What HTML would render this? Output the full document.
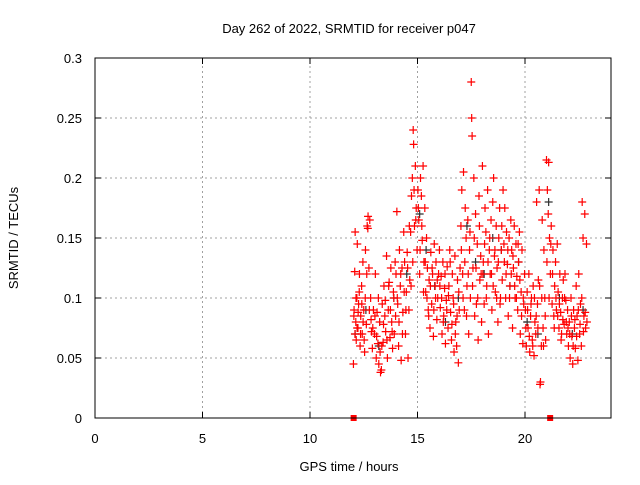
<!DOCTYPE html>
<html><head><meta charset="utf-8"><style>
body{margin:0;background:#fff}
svg text{font-family:"Liberation Sans",sans-serif;font-size:13px;fill:#000}
</style></head><body>
<svg id="chart" width="640" height="480" viewBox="0 0 640 480" xmlns="http://www.w3.org/2000/svg">
<rect width="640" height="480" fill="#fff"/>
<text x="349" y="33" text-anchor="middle">Day 262 of 2022, SRMTID for receiver p047</text>
<text transform="translate(18,238) rotate(-90)" text-anchor="middle">SRMTID / TECUs</text>
<text x="349" y="471" text-anchor="middle">GPS time / hours</text>
<g id="grid"></g>
<g id="ticks"></g>
<g id="marks"></g>
<rect x="95" y="58" width="516" height="360" fill="none" stroke="#000" stroke-width="1"/>
</svg>
<script>
const xTicks=[0,5,10,15,20];
const yTicks=[0,0.05,0.1,0.15,0.2,0.25,0.3];
const yTickLabels=["0","0.05","0.1","0.15","0.2","0.25","0.3"];
const times=[12.02,12.05,12.08,12.1,12.13,12.15,12.18,12.2,12.23,12.26,12.3,12.33,12.36,12.4,12.43,12.46,12.5,12.54,12.58,12.62,12.66,12.7,12.74,12.78,12.82,12.86,12.9,12.95,
13.0,13.04,13.08,13.12,13.16,13.2,13.24,13.28,13.32,13.36,13.4,13.44,13.48,13.52,13.56,13.6,13.64,13.68,13.72,13.76,13.8,13.84,13.88,13.92,13.96,
14.0,14.04,14.08,14.12,14.16,14.2,14.24,14.28,14.32,14.36,14.4,14.44,14.48,14.52,14.56,14.6,14.64,14.68,14.72,14.76,14.8,14.82,14.86,14.9,14.94,14.98,
15.02,15.06,15.1,15.14,15.18,15.22,15.26,15.3,15.34,15.38,15.42,15.46,15.5,15.54,15.58,15.62,15.66,15.7,15.74,15.78,15.82,15.86,15.9,15.94,15.98,
16.02,16.06,16.1,16.14,16.18,16.22,16.26,16.3,16.34,16.38,16.42,16.46,16.5,16.54,16.58,16.62,16.66,16.7,16.74,16.78,16.82,16.86,16.9,16.94,16.98,
17.02,17.06,17.1,17.14,17.18,17.22,17.26,17.3,17.34,17.38,17.42,17.46,17.5,17.52,17.54,17.58,17.62,17.66,17.7,17.74,17.78,17.82,17.86,17.9,17.94,17.98,
18.02,18.06,18.1,18.14,18.18,18.22,18.26,18.3,18.34,18.38,18.42,18.46,18.5,18.54,18.58,18.62,18.66,18.7,18.74,18.78,18.82,18.86,18.9,18.94,18.98,
19.02,19.06,19.1,19.14,19.18,19.22,19.26,19.3,19.34,19.38,19.42,19.46,19.5,19.54,19.58,19.62,19.66,19.7,19.74,19.78,19.82,19.86,19.9,19.94,19.98,
20.02,20.06,20.1,20.14,20.18,20.22,20.26,20.3,20.34,20.38,20.42,20.46,20.5,20.54,20.58,20.62,20.66,20.7,20.72,20.76,20.8,20.84,20.88,20.92,20.96,
21.0,21.04,21.08,21.1,21.14,21.18,21.22,21.26,21.3,21.34,21.38,21.42,21.46,21.5,21.54,21.58,21.62,21.66,21.7,21.74,21.78,21.82,21.86,21.9,21.94,21.98,
22.02,22.06,22.1,22.14,22.18,22.22,22.26,22.3,22.34,22.38,22.42,22.46,22.5,22.54,22.58,22.62,22.66,22.7,22.74,22.78,22.82,22.86];
const srmtid=[.045,.09,.122,.155,.08,.065,.1,.145,.075,.095,.12,.06,.085,.11,.07,.13,.09,.055,.14,.078,.16,.168,.125,.165,.1,.072,.058,.09,
.07,.12,.05,.088,.062,.045,.08,.038,.04,.095,.063,.11,.085,.072,.135,.05,.09,.113,.067,.125,.08,.058,.105,.07,.13,
.12,.172,.095,.06,.14,.11,.048,.125,.088,.155,.13,.07,.105,.138,.05,.09,.115,.155,.185,.2,.24,.228,.16,.21,.175,.14,
.19,.165,.12,.2,.185,.148,.21,.13,.175,.105,.15,.125,.09,.115,.075,.138,.095,.12,.068,.145,.11,.13,.082,.1,.12,
.14,.092,.118,.07,.13,.085,.108,.062,.098,.126,.075,.11,.14,.088,.065,.12,.1,.055,.135,.08,.06,.115,.046,.09,.125,
.16,.19,.12,.205,.09,.175,.15,.11,.165,.07,.14,.1,.28,.25,.235,.125,.2,.085,.17,.095,.145,.065,.185,.115,.135,.08,
.21,.13,.095,.175,.155,.11,.19,.07,.14,.12,.165,.09,.18,.2,.135,.105,.16,.125,.08,.15,.175,.1,.14,.115,.19,
.145,.175,.1,.155,.128,.085,.15,.11,.165,.14,.075,.125,.16,.1,.145,.118,.09,.13,.155,.07,.105,.14,.062,.095,.12,
.09,.06,.105,.075,.12,.055,.085,.1,.065,.11,.052,.08,.07,.18,.095,.115,.19,.028,.03,.06,.165,.075,.14,.1,.065,
.215,.19,.17,.213,.15,.12,.16,.095,.14,.085,.11,.13,.09,.145,.105,.075,.12,.088,.07,.1,.115,.078,.12,.098,.07,.09,
.06,.08,.05,.1,.068,.045,.09,.075,.058,.11,.085,.048,.12,.07,.095,.06,.18,.15,.085,.17,.075,.145];
const extraTimes=[12.04,12.09,12.14,12.19,12.24,12.29,12.35,12.41,12.47,12.52,12.57,12.64,12.69,12.76,12.84,12.92,
13.02,13.1,13.18,13.26,13.34,13.42,13.5,13.58,13.66,13.74,13.82,13.9,13.98,
14.06,14.14,14.22,14.3,14.38,14.46,14.54,14.62,14.7,14.78,14.84,14.92,
15.04,15.12,15.2,15.28,15.36,15.44,15.52,15.6,15.68,15.76,15.84,15.92,
16.04,16.12,16.2,16.28,16.36,16.44,16.52,16.6,16.68,16.76,16.84,16.92,
17.04,17.12,17.2,17.28,17.36,17.44,17.56,17.64,17.72,17.8,17.88,17.96,
18.04,18.12,18.2,18.28,18.36,18.44,18.52,18.6,18.68,18.76,18.84,18.92,
19.04,19.12,19.2,19.28,19.36,19.44,19.52,19.6,19.68,19.76,19.84,19.92,
20.04,20.12,20.2,20.28,20.36,20.44,20.52,20.6,20.68,20.78,20.86,20.94,
21.02,21.12,21.2,21.28,21.36,21.44,21.52,21.6,21.68,21.76,21.84,21.92,
22.0,22.08,22.16,22.24,22.32,22.4,22.48,22.56,22.64,22.72,22.8,22.88];
const extraSrmtid=[.085,.07,.1,.075,.088,.105,.07,.095,.08,.065,.1,.12,.158,.09,.082,.075,
.085,.068,.1,.055,.06,.078,.098,.065,.11,.09,.072,.1,.085,
.1,.08,.12,.07,.105,.09,.125,.16,.11,.13,.19,.165,
.175,.14,.16,.105,.13,.1,.085,.11,.125,.09,.1,.115,
.11,.1,.08,.12,.09,.102,.13,.078,.095,.07,.085,.105,
.14,.1,.13,.085,.12,.155,.11,.15,.125,.1,.16,.12,
.12,.145,.1,.13,.15,.12,.11,.14,.1,.13,.095,.16,
.13,.12,.14,.1,.12,.135,.11,.1,.145,.115,.085,.1,
.075,.09,.068,.095,.06,.1,.085,.075,.11,.1,.06,.085,
.13,.1,.145,.12,.075,.1,.085,.095,.065,.082,.1,.08,
.075,.07,.085,.06,.082,.068,.09,.078,.1,.072,.088,.08];
const darkTimes=[12.1,12.6,13.2,13.9,14.5,15.1,15.4,15.8,16.3,16.9,17.3,17.7,18.1,18.5,18.9,19.3,19.7,20.1,20.6,21.1,21.6,22.2,22.7];
const darkSrmtid=[.07,.09,.06,.1,.12,.17,.14,.11,.08,.1,.16,.13,.12,.15,.14,.11,.13,.08,.07,.18,.1,.07,.09];
const gapTimes=[12.03,21.17];
const gapValues=[0,0];

const NS="http://www.w3.org/2000/svg";
const X0=95,X1=611,Y0=418,Y1=58;
function xs(t){return X0+(t/24)*(X1-X0);}
function ys(v){return Y0-(v/0.3)*(Y0-Y1);}
const grid=document.getElementById('grid'),ticks=document.getElementById('ticks'),marks=document.getElementById('marks');
function el(tag,attrs,parent){const e=document.createElementNS(NS,tag);for(const k in attrs)e.setAttribute(k,attrs[k]);parent.appendChild(e);return e;}
xTicks.forEach(t=>{const x=xs(t);
 if(t>0){const g=el('line',{x1:x,x2:x,y1:Y0,y2:Y1,stroke:'#a0a0a0','stroke-dasharray':'2,3'},grid);
 
 }
 const tk=el('path',{d:`M${x},${Y0}v-6M${x},${Y1}v6`,stroke:'#000'},ticks);
 
 
 const tx=el('text',{x:x,y:443,'text-anchor':'middle'},ticks);tx.textContent=String(t);
 
 
});
yTicks.forEach((v,i)=>{const y=ys(v);
 if(v>0&&v<0.3){const g=el('line',{x1:X0,x2:X1,y1:y,y2:y,stroke:'#a0a0a0','stroke-dasharray':'2,3'},grid);
 
 }
 const tk=el('path',{d:`M${X0},${y}h6M${X1},${y}h-6`,stroke:'#000'},ticks);
 
 
 const tx=el('text',{x:82,y:y+5,'text-anchor':'end'},ticks);tx.textContent=yTickLabels[i];
 
 
});
function cross(t,v,color){const x=xs(t),y=ys(v);
 const p=el('path',{d:`M${x-4},${y}h8M${x},${y-4}v8`,stroke:color,'stroke-width':1.2},marks);
 
 }
darkTimes.forEach((t,i)=>cross(t,darkSrmtid[i],'#303030'));
extraTimes.forEach((t,i)=>cross(t,extraSrmtid[i],'#ff0000'));
times.forEach((t,i)=>cross(t,srmtid[i],'#ff0000'));
gapTimes.forEach((t,i)=>{const r=el('rect',{x:xs(t)-3,y:ys(gapValues[i])-3,width:6,height:6,fill:'#ff0000'},marks);
 
 });
</script>
</body></html>
